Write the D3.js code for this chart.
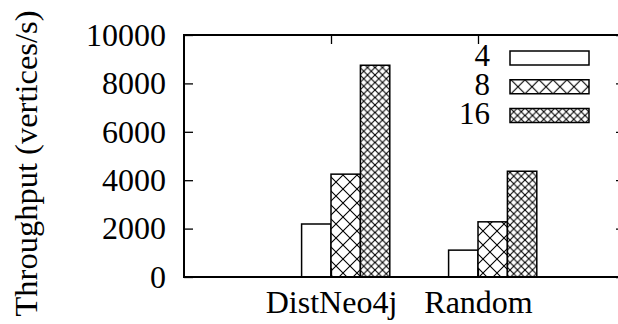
<!DOCTYPE html>
<html>
<head>
<meta charset="utf-8">
<script src="https://cdn.jsdelivr.net/npm/d3@7"></script>
<style>
	body { margin: 0; background: #fff; }
	text { font-family: "Liberation Serif", "DejaVu Serif", serif; }
</style>
</head>
<body>
<svg id="chart" width="618" height="324"></svg>
<script>
	// Datos
	var categories = ["DistNeo4j", "Random"];
	var seriesNames = ["4", "8", "16"];
	var values4 = [2190, 1110];
	var values8 = [4250, 2280];
	var values16 = [8750, 4370];
	var yTicks = [0, 2000, 4000, 6000, 8000, 10000];

	var seriesValues = [values4, values8, values16];
	var fills = ["#fff", "url(#hatchBig)", "url(#hatchSmall)"];

	var svg = d3.select("#chart");
	var plotLeft = 184, plotRight = 625, plotTop = 35, plotBottom = 277;
	var fontSize = 32;

	var x = d3.scaleLinear().domain([0, 3]).range([plotLeft, plotRight]);
	var y = d3.scaleLinear().domain([0, 10000]).range([plotBottom, plotTop]);
	var barW = 0.2;

	/**
	 * Patrones de trama cruzada.
	 */
	function makePattern(id, size) {
		var p = svg.append("defs").append("pattern")
			.attr("id", id)
			.attr("patternUnits", "userSpaceOnUse")
			.attr("width", size).attr("height", size);
		p.append("rect").attr("width", size).attr("height", size).attr("fill", "#fff");
		p.append("path")
			.attr("d", "M0,0L" + size + "," + size + "M0," + size + "L" + size + ",0")
			.attr("stroke", "#000").attr("stroke-width", 1.1);
	}

	/**
	 * Barras agrupadas.
	 */
	function drawBars() {
		seriesValues.forEach(function(vals, s) {
			svg.append("g").selectAll("rect").data(vals).enter()
				.append("rect")
				.attr("x", function(d, i) { return x(i + 1 + (s - 1) * barW); })
				.attr("y", function(d) { return y(d); })
				.attr("width", x(barW) - x(0))
				.attr("height", function(d) { return y(0) - y(d); })
				.attr("fill", fills[s])
				.attr("stroke", "#000")
				.attr("stroke-width", 1.5);
		});
	}

	/**
	 * Ejes y borde.
	 */
	function drawAxes() {
		svg.append("g").attr("transform", "translate(" + plotLeft + ",0)")
			.call(d3.axisLeft(y).tickValues(yTicks).tickSize(-9).tickPadding(18).tickFormat(d3.format("d")));
		svg.append("g").attr("transform", "translate(" + plotRight + ",0)")
			.call(d3.axisRight(y).tickValues(yTicks).tickSize(-9).tickFormat(""));
		svg.append("g").attr("transform", "translate(0," + plotBottom + ")")
			.call(d3.axisBottom(x).tickValues([1, 2]).tickSize(-9).tickPadding(13)
				.tickFormat(function(d) { return categories[d - 1]; }));
		svg.append("g").attr("transform", "translate(0," + plotTop + ")")
			.call(d3.axisTop(x).tickValues([1, 2]).tickSize(-9).tickFormat(""));

		svg.selectAll(".domain").remove();
		svg.selectAll(".tick line").attr("stroke", "#000").attr("stroke-width", 1.3);
		svg.selectAll(".tick text").attr("font-size", fontSize).attr("font-family", "Liberation Serif").attr("fill", "#000");

		svg.append("rect")
			.attr("x", plotLeft).attr("y", plotTop)
			.attr("width", plotRight - plotLeft).attr("height", plotBottom - plotTop)
			.attr("fill", "none").attr("stroke", "#000").attr("stroke-width", 2);

		svg.append("text")
			.attr("transform", "translate(37,163.5) rotate(-90)")
			.attr("text-anchor", "middle")
			.attr("font-size", 32.5)
			.text("Throughput (vertices/s)");
	}

	/**
	 * Leyenda.
	 */
	function drawLegend() {
		var leg = svg.append("g").selectAll("g").data(seriesNames).enter()
			.append("g")
			.attr("transform", function(d, i) { return "translate(0," + (58 + i * 28.75) + ")"; });
		leg.append("text")
			.attr("x", 490).attr("y", 8)
			.attr("text-anchor", "end")
			.attr("font-size", 31)
			.text(function(d) { return d; });
		leg.append("rect")
			.attr("x", 510).attr("y", -7)
			.attr("width", 79).attr("height", 14)
			.attr("fill", function(d, i) { return fills[i]; })
			.attr("stroke", "#000").attr("stroke-width", 1.5);
	}

	makePattern("hatchBig", 14);
	makePattern("hatchSmall", 7.5);
	drawBars();
	drawAxes();
	drawLegend();
</script>
</body>
</html>
